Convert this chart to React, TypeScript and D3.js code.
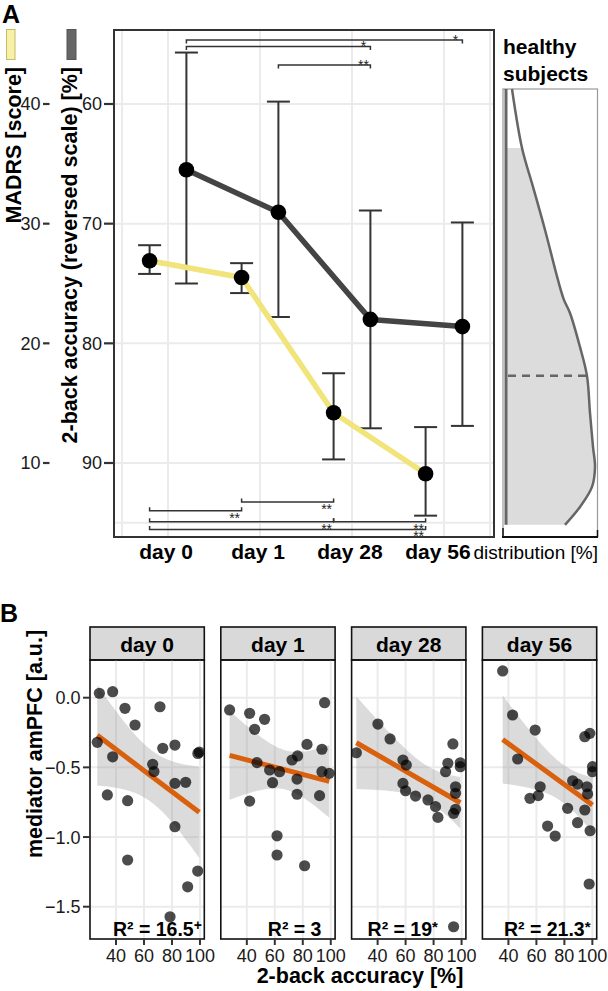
import React from "react";
import * as d3 from "d3";

// ---------- Panel A data ----------
const days = ["day 0", "day 1", "day 28", "day 56"];
const madrsMean = [26.9, 25.5, 14.2, 9.1];
const madrsLower = [25.8, 24.2, 10.3, 5.6];
const madrsUpper = [28.2, 26.7, 17.5, 13.0];
const accMean = [65.5, 69.05, 78.0, 78.6];
const accLower = [55.7, 59.8, 68.9, 69.9];
const accUpper = [75.0, 77.8, 87.1, 86.9];
const accTicks = [60, 70, 80, 90];
const madrsTicks = [40, 30, 20, 10];
const gridPositions = [-0.5, 0, 1, 2, 3, 3.5];
const gridAcc = [60, 70, 80, 90, 95];

const accBrackets = [
  { from: 0, to: 3, level: 54.65, label: "*" },
  { from: 0, to: 2, level: 55.2, label: "*" },
  { from: 1, to: 2, level: 56.75, label: "**" },
];
const madrsBrackets = [
  { from: 0, to: 1, level: 6.0, label: "**" },
  { from: 1, to: 2, level: 6.75, label: "**" },
  { from: 0, to: 2, level: 5.1, label: "**" },
  { from: 2, to: 3, level: 5.1, label: "**" },
  { from: 0, to: 3, level: 4.45, label: "**" },
];

const healthyAcc = [58.75, 63.68, 66.93, 70.53, 74.7, 76.37, 77.46, 80.3, 82.72, 85.81, 88.65, 90.33, 92.0, 93.67, 95.17];
const healthyDensity = [0.066, 0.176, 0.297, 0.429, 0.571, 0.637, 0.703, 0.813, 0.89, 0.923, 0.956, 0.978, 0.945, 0.813, 0.648];
const healthyRange = [63.68, 95.17];
const healthyMedian = 82.7;

// ---------- Panel B data ----------
const facetDays = ["day 0", "day 1", "day 28", "day 56"];
const accDay0 = [28.1, 37.6, 46.4, 53.6, 71.4, 26.6, 37.6, 73.4, 82.1, 99.5, 98.5, 66.2, 67.1, 33.8, 48.3, 82.1, 89.8, 82.1, 48.3, 98.4, 91.2, 78.6];
const medDay0 = [0.032, 0.043, -0.076, -0.196, -0.065, -0.32, -0.424, -0.363, -0.34, -0.39, -0.4, -0.478, -0.53, -0.698, -0.739, -0.615, -0.607, -0.926, -1.165, -1.244, -1.357, -1.572];
const accDay1 = [27.7, 42.0, 52.7, 45.6, 95.6, 83.0, 93.7, 76.3, 72.3, 47.3, 56.3, 63.4, 75.9, 58.4, 93.7, 98.9, 75.9, 92.0, 42.0, 61.6, 61.6, 81.3];
const medDay1 = [-0.088, -0.112, -0.155, -0.227, -0.036, -0.335, -0.37, -0.418, -0.447, -0.466, -0.519, -0.531, -0.584, -0.61, -0.531, -0.543, -0.693, -0.703, -0.742, -0.991, -1.129, -1.206];
const accDay28 = [40.2, 48.9, 24.8, 93.8, 58.1, 60.5, 90.2, 88.6, 99.1, 99.1, 58.1, 60.0, 67.1, 76.0, 81.4, 83.1, 94.3, 95.7, 95.7, 95.7, 94.3];
const medDay28 = [-0.189, -0.296, -0.395, -0.332, -0.447, -0.483, -0.471, -0.531, -0.467, -0.495, -0.615, -0.668, -0.706, -0.734, -0.782, -0.859, -0.83, -0.801, -0.686, -0.639, -1.644];
const accDay56 = [35.9, 43.0, 59.1, 46.6, 94.6, 98.2, 100.1, 100.1, 55.4, 61.3, 62.7, 68.0, 73.4, 85.9, 89.4, 82.3, 89.4, 96.1, 96.6, 94.6, 98.4, 97.7];
const medDay56 = [0.192, -0.124, -0.232, -0.44, -0.28, -0.256, -0.495, -0.531, -0.722, -0.703, -0.639, -0.921, -0.993, -0.596, -0.62, -0.794, -0.897, -0.639, -0.691, -0.806, -0.955, -1.337];
const facetAcc = [accDay0, accDay1, accDay28, accDay56];
const facetMed = [medDay0, medDay1, medDay28, medDay56];
const r2Values = ["16.5", "3", "19", "21.3"];
const r2Signif = ["+", "", "*", "*"];
const r2LabelX = [37.8, 55.0, 32.8, 36.8];
const bXTicks = [40, 60, 80, 100];
const bYTicks = [0, -0.5, -1.0, -1.5];

const tQuantile: Record<number, number> = { 17: 2.11, 18: 2.101, 19: 2.093, 20: 2.086, 21: 2.08, 22: 2.074 };

const FONT = "'Liberation Sans', Arial, Helvetica, sans-serif";

function fitLm(xs: number[], ys: number[]) {
  const n = xs.length;
  const mx = d3.mean(xs) as number;
  const my = d3.mean(ys) as number;
  let sxx = 0, sxy = 0;
  for (let i = 0; i < n; i++) {
    sxx += (xs[i] - mx) ** 2;
    sxy += (xs[i] - mx) * (ys[i] - my);
  }
  const b = sxy / sxx;
  const a = my - b * mx;
  let sse = 0;
  for (let i = 0; i < n; i++) sse += (ys[i] - (a + b * xs[i])) ** 2;
  const s = Math.sqrt(sse / (n - 2));
  const t = tQuantile[n - 2] ?? 2.086;
  return { a, b, mx, sxx, s, n, t };
}

export default function App() {
  // Panel A scales
  const xA = d3.scaleLinear().domain([0, 3]).range([168, 444]);
  const yAcc = d3.scaleLinear().domain([60, 90]).range([104, 463]);
  const yMad = d3.scaleLinear().domain([40, 10]).range([104, 463]);
  const dodge = 0.2;
  const frameA = { x0: 114, x1: 494, y0: 30, y1: 537 };

  const madLine = d3.line<number>().x((_, i) => xA(i - dodge)).y((d) => yMad(d));
  const accLine = d3.line<number>().x((_, i) => xA(i + dodge)).y((d) => yAcc(d));

  // Healthy panel
  const xD = d3.scaleLinear().domain([0, 1]).range([506, 597]);
  const healthyPts = healthyAcc.map((a, i) => [a, healthyDensity[i]] as [number, number]);
  const curvePath = d3
    .line<[number, number]>()
    .x((d) => xD(d[1]))
    .y((d) => yAcc(d[0]))
    .curve(d3.curveCatmullRom)(healthyPts) as string;
  const fillPts = healthyPts.filter((d) => d[0] >= healthyRange[0] - 1e-6 && d[0] <= healthyRange[1] + 1e-6);
  const fillPath = d3
    .area<[number, number]>()
    .y((d) => yAcc(d[0]))
    .x0(xD(0))
    .x1((d) => xD(d[1]))
    .curve(d3.curveCatmullRom)(fillPts) as string;
  const densAt = d3.scaleLinear().domain(healthyAcc).range(healthyDensity);

  // Panel B scales
  const facetLeft = 90, facetW = 114.3, facetStep = 130.8;
  const bTop = 660, bBottom = 939, stripTop = 627;
  const xBBase = d3.scaleLinear().domain([21.4, 103.1]).range([0, facetW]);
  const yB = d3.scaleLinear().domain([0, -1.5]).range([697.7, 906.7]);

  const gridCol = "#ebebeb";
  const dark = "#333333";

  return (
    <svg
      width={608}
      height={991}
      viewBox="0 0 608 991"
      style={{ position: "absolute", left: 0, top: 0, background: "#fff" }}
      fontFamily={FONT}
    >
      <rect x={0} y={0} width={608} height={991} fill="#fff" />
      {/* ================= Panel A ================= */}
      <text x={2} y={23} fontSize={25} fontWeight="bold">A</text>

      {/* legend swatches */}
      <rect x={6.5} y={29.5} width={8.5} height={30} fill="#f8f0a4" stroke="#c4ba70" strokeWidth={1} />
      <rect x={67} y={29.5} width={9} height={30} fill="#666" stroke="#555" strokeWidth={1} />

      {/* axis titles */}
      <text transform="translate(20.5,67) rotate(-90)" textAnchor="end" fontSize={21.5} fontWeight="bold">
        MADRS [score]
      </text>
      <text transform="translate(77,67) rotate(-90)" textAnchor="end" fontSize={21.5} fontWeight="bold">
        2-back accuracy (reversed scale) [%]
      </text>

      {/* grid */}
      <g>
        {gridAcc.map((g) => (
          <line key={"ga" + g} x1={frameA.x0} x2={frameA.x1} y1={yAcc(g)} y2={yAcc(g)} stroke={gridCol} strokeWidth={2} />
        ))}
        {gridPositions.map((p) => (
          <line key={"gp" + p} x1={xA(p)} x2={xA(p)} y1={frameA.y0} y2={frameA.y1} stroke={gridCol} strokeWidth={2} />
        ))}
      </g>

      {/* ticks: accuracy */}
      {accTicks.map((t) => (
        <g key={"at" + t}>
          <line x1={104} x2={113} y1={yAcc(t)} y2={yAcc(t)} stroke={dark} strokeWidth={2.2} />
          <text x={102} y={yAcc(t)} dy="0.36em" textAnchor="end" fontSize={18} fill="#1a1a1a">{t}</text>
        </g>
      ))}
      {madrsTicks.map((t) => (
        <g key={"mt" + t}>
          <line x1={43} x2={49.5} y1={yMad(t)} y2={yMad(t)} stroke={dark} strokeWidth={2.2} />
          <text x={40.5} y={yMad(t)} dy="0.36em" textAnchor="end" fontSize={18} fill="#1a1a1a">{t}</text>
        </g>
      ))}

      {/* brackets (top, accuracy) */}
      {accBrackets.map((b, i) => {
        const x1 = xA(b.from + dodge), x2 = xA(b.to + dodge), y = yAcc(b.level);
        return (
          <g key={"ab" + i}>
            <path d={`M${x1},${y + 3.5}V${y}H${x2}V${y + 3.5}`} fill="none" stroke={dark} strokeWidth={1.5} />
            <text x={x2 - 7} y={y + 4.6} textAnchor="middle" fontSize={14} fill="#222">{b.label}</text>
          </g>
        );
      })}
      {madrsBrackets.map((b, i) => {
        const x1 = xA(b.from - dodge), x2 = xA(b.to - dodge), y = yMad(b.level);
        return (
          <g key={"mb" + i}>
            <path d={`M${x1},${y - 3.5}V${y}H${x2}V${y - 3.5}`} fill="none" stroke={dark} strokeWidth={1.5} />
            <text x={x2 - 7} y={y + 12} textAnchor="middle" fontSize={14} fill="#222">{b.label}</text>
          </g>
        );
      })}

      {/* error bars */}
      {madrsMean.map((_, i) => {
        const x = xA(i - dodge);
        const y1 = yMad(madrsUpper[i]), y2 = yMad(madrsLower[i]);
        return (
          <g key={"me" + i} stroke={dark} strokeWidth={2}>
            <line x1={x} x2={x} y1={y1} y2={y2} />
            <line x1={x - 11.5} x2={x + 11.5} y1={y1} y2={y1} />
            <line x1={x - 11.5} x2={x + 11.5} y1={y2} y2={y2} />
          </g>
        );
      })}
      {accMean.map((_, i) => {
        const x = xA(i + dodge);
        const y1 = yAcc(accLower[i]), y2 = yAcc(accUpper[i]);
        return (
          <g key={"ae" + i} stroke={dark} strokeWidth={2}>
            <line x1={x} x2={x} y1={y1} y2={y2} />
            <line x1={x - 11.5} x2={x + 11.5} y1={y1} y2={y1} />
            <line x1={x - 11.5} x2={x + 11.5} y1={y2} y2={y2} />
          </g>
        );
      })}

      {/* lines */}
      <path d={madLine(madrsMean) as string} fill="none" stroke="#f0e47a" strokeWidth={5.5} strokeLinejoin="round" />
      <path d={accLine(accMean) as string} fill="none" stroke="#444" strokeWidth={5.5} strokeLinejoin="round" />

      {/* points */}
      {madrsMean.map((m, i) => (
        <circle key={"mp" + i} cx={xA(i - dodge)} cy={yMad(m)} r={7.8} fill="#000" />
      ))}
      {accMean.map((m, i) => (
        <circle key={"ap" + i} cx={xA(i + dodge)} cy={yAcc(m)} r={7.8} fill="#000" />
      ))}

      {/* frame */}
      <rect x={frameA.x0} y={frameA.y0} width={frameA.x1 - frameA.x0} height={frameA.y1 - frameA.y0} fill="none" stroke={dark} strokeWidth={2} />

      {/* x labels */}
      {days.map((d, i) => (
        <text key={"xl" + i} x={xA(i) - (i === 3 ? 6 : 2)} y={559} textAnchor="middle" fontSize={21} fontWeight="bold">
          {d}
        </text>
      ))}

      {/* healthy subjects panel */}
      <text x={503} y={54} fontSize={21} fontWeight="bold">healthy</text>
      <text x={503} y={80.5} fontSize={21} fontWeight="bold">subjects</text>
      <rect x={503} y={89} width={94.5} height={448} fill="none" stroke="#999" strokeWidth={1.2} />
      <path d={fillPath} fill="#dcdcdc" stroke="none" />
      <line x1={xD(0)} x2={xD(0)} y1={89} y2={yAcc(healthyRange[1])} stroke="#666" strokeWidth={3} />
      <line
        x1={xD(0) + 2}
        x2={xD(densAt(healthyMedian))}
        y1={yAcc(healthyMedian)}
        y2={yAcc(healthyMedian)}
        stroke="#666"
        strokeWidth={2.5}
        strokeDasharray="8,6"
      />
      <path d={curvePath} fill="none" stroke="#666" strokeWidth={2.5} />
      <line x1={502} x2={598} y1={537} y2={537} stroke="#111" strokeWidth={2} />
      <line x1={503} x2={503} y1={528} y2={537} stroke="#111" strokeWidth={1.5} />
      <line x1={597.5} x2={597.5} y1={530} y2={537} stroke="#111" strokeWidth={1.5} />
      <text x={598} y={559} textAnchor="end" fontSize={19}>distribution [%]</text>

      {/* ================= Panel B ================= */}
      <text x={0} y={622} fontSize={25} fontWeight="bold">B</text>
      <defs>
        {facetDays.map((_, f) => (
          <clipPath key={"cp" + f} id={"clipB" + f}>
            <rect x={facetLeft + f * facetStep} y={bTop} width={facetW} height={bBottom - bTop} />
          </clipPath>
        ))}
      </defs>

      {facetDays.map((fd, f) => {
        const off = facetLeft + f * facetStep;
        const xB = (v: number) => off + xBBase(v);
        const xs = facetAcc[f], ys = facetMed[f];
        const m = fitLm(xs, ys);
        const [mn, mxv] = d3.extent(xs) as [number, number];
        const samples = d3.range(0, 61).map((k) => mn + ((mxv - mn) * k) / 60);
        const band = samples.map((x) => {
          const yh = m.a + m.b * x;
          const se = m.s * Math.sqrt(1 / m.n + (x - m.mx) ** 2 / m.sxx);
          return { x, yh, lo: yh - m.t * se, hi: yh + m.t * se };
        });
        const ribbon = d3
          .area<{ x: number; lo: number; hi: number }>()
          .x((d) => xB(d.x))
          .y0((d) => yB(d.lo))
          .y1((d) => yB(d.hi))(band) as string;
        return (
          <g key={"facet" + f}>
            {/* strip */}
            <rect x={off} y={stripTop} width={facetW} height={bTop - stripTop} fill="#d9d9d9" stroke="#111" strokeWidth={1.6} />
            <text x={off + facetW / 2} y={652} textAnchor="middle" fontSize={21} fontWeight="bold">{fd}</text>
            {/* grid */}
            {bYTicks.map((t) => (
              <line key={"gy" + t} x1={off} x2={off + facetW} y1={yB(t)} y2={yB(t)} stroke={gridCol} strokeWidth={2} />
            ))}
            {bXTicks.map((t) => (
              <line key={"gx" + t} x1={xB(t)} x2={xB(t)} y1={bTop} y2={bBottom} stroke={gridCol} strokeWidth={2} />
            ))}
            <g clipPath={`url(#clipB${f})`}>
              <path d={ribbon} fill="#999" fillOpacity={0.35} />
              <line
                x1={xB(mn)}
                x2={xB(mxv)}
                y1={yB(m.a + m.b * mn)}
                y2={yB(m.a + m.b * mxv)}
                stroke="#d9600c"
                strokeWidth={5}
              />
              {xs.map((x, i) => (
                <circle key={"p" + i} cx={xB(x)} cy={yB(ys[i])} r={5.6} fill="#000" fillOpacity={0.7} />
              ))}
            </g>
            {/* R2 label */}
            <text x={xB(r2LabelX[f])} y={936} fontSize={19.5} fontWeight="bold">
              {"R² = " + r2Values[f]}
              {r2Signif[f] && (
                <tspan fontSize={r2Signif[f] === "+" ? 14 : 15} dy={r2Signif[f] === "+" ? -6 : -4}>
                  {r2Signif[f]}
                </tspan>
              )}
            </text>
            {/* panel border */}
            <rect x={off} y={bTop} width={facetW} height={bBottom - bTop} fill="none" stroke="#111" strokeWidth={1.6} />
            {/* x ticks */}
            {bXTicks.map((t) => (
              <g key={"xt" + t}>
                <line x1={xB(t)} x2={xB(t)} y1={bBottom} y2={bBottom + 6} stroke={dark} strokeWidth={2} />
                <text x={xB(t)} y={962} textAnchor="middle" fontSize={18} fill="#1a1a1a">{t}</text>
              </g>
            ))}
          </g>
        );
      })}

      {/* y ticks panel B */}
      {bYTicks.map((t) => (
        <g key={"byt" + t}>
          <line x1={83} x2={90} y1={yB(t)} y2={yB(t)} stroke={dark} strokeWidth={2} />
          <text x={80.5} y={yB(t)} dy="0.36em" textAnchor="end" fontSize={18} fill="#1a1a1a">
            {d3.format(".1f")(t).replace("-", "\u2212")}
          </text>
        </g>
      ))}

      <text transform="translate(41.5,744) rotate(-90)" textAnchor="middle" fontSize={21.5} fontWeight="bold">
        mediator amPFC [a.u.]
      </text>
      <text x={360} y={983} textAnchor="middle" fontSize={21.5} fontWeight="bold">
        2-back accuracy [%]
      </text>
    </svg>
  );
}
